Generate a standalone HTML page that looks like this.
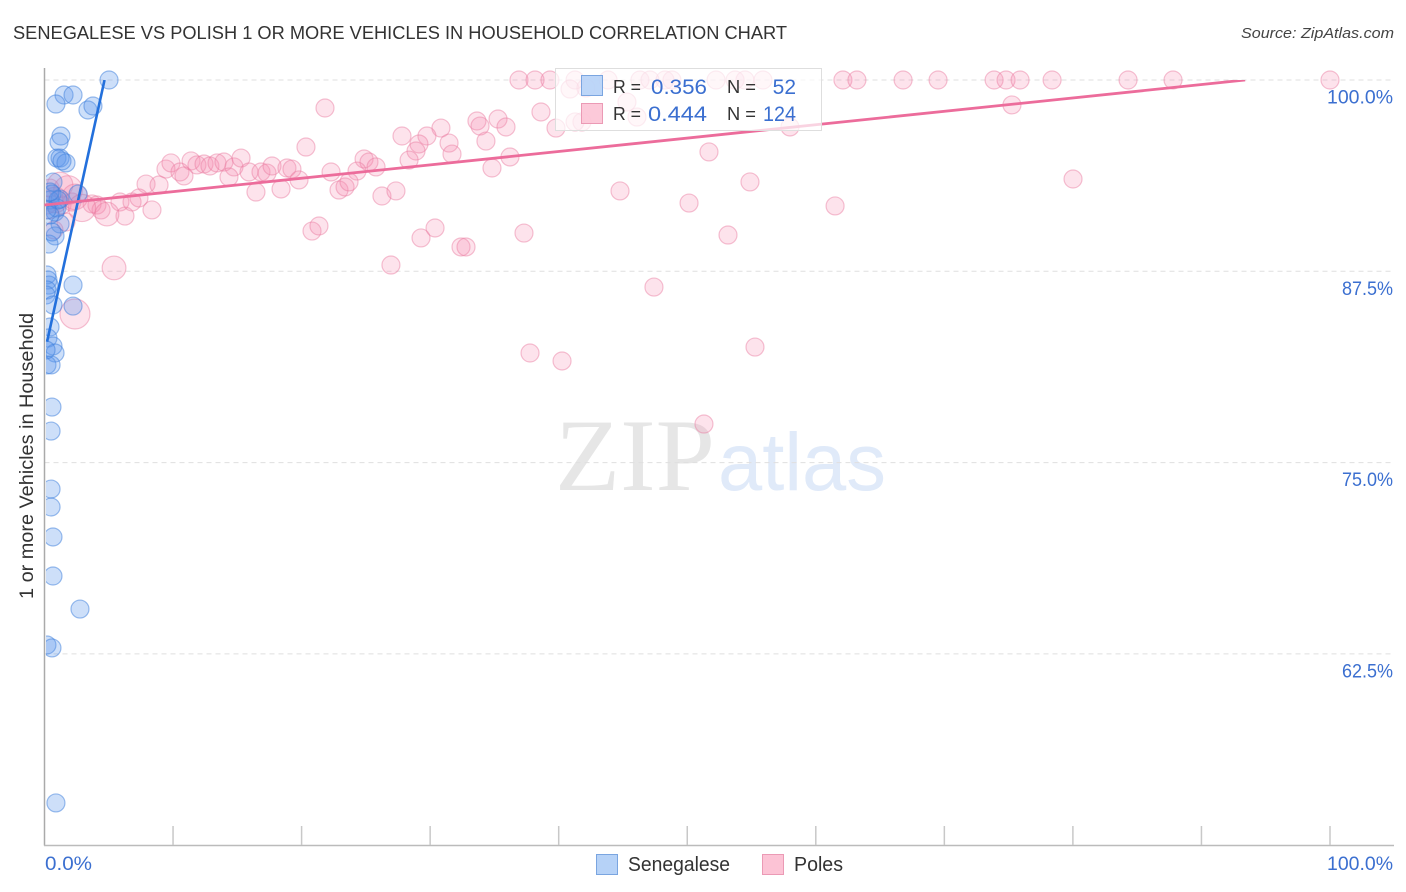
<!DOCTYPE html>
<html>
<head>
<meta charset="utf-8">
<title>Senegalese vs Polish 1 or more Vehicles in Household Correlation Chart</title>
<style>
html,body{margin:0;padding:0;background:#fff;}
svg{display:block;font-family:"Liberation Sans",sans-serif;}
</style>
</head>
<body>
<svg id="chart" width="1406" height="892" viewBox="0 0 1406 892" xmlns="http://www.w3.org/2000/svg">
  <rect x="0" y="0" width="1406" height="892" fill="#fff"/>
  <text x="13" y="39" font-size="18" fill="#333" textLength="774" lengthAdjust="spacingAndGlyphs">SENEGALESE VS POLISH 1 OR MORE VEHICLES IN HOUSEHOLD CORRELATION CHART</text>
  <text x="1241" y="38" font-size="15" font-style="italic" fill="#444" textLength="153" lengthAdjust="spacingAndGlyphs">Source: ZipAtlas.com</text>
  <g>
    <text x="555" y="490" font-family="'Liberation Serif',serif" font-size="103" fill="#e6e6e6" textLength="160" lengthAdjust="spacingAndGlyphs">ZIP</text>
    <text x="718" y="490" font-family="'Liberation Sans',sans-serif" font-size="82" fill="#e0eaf9" textLength="168" lengthAdjust="spacingAndGlyphs">atlas</text>
  </g>
  <g id="grid"></g>
  <g id="axes"></g>
  <clipPath id="dotClip"><rect x="46" y="0" width="1360" height="892"/></clipPath>
  <g id="pinkDots" clip-path="url(#dotClip)"></g>
  <g id="blueDots" clip-path="url(#dotClip)"></g>
  <clipPath id="trendClip"><rect x="0" y="80" width="1406" height="770"/></clipPath>
  <g id="trends" clip-path="url(#trendClip)"></g>
  <g>
    <rect x="555.5" y="68.5" width="266" height="62" fill="#fff" fill-opacity="0.7" stroke="#dedede" stroke-width="1"/>
    <rect x="581.5" y="75.5" width="21" height="20" fill="#b6d2f7" fill-opacity="0.9" stroke="#7aa5e0"/>
    <rect x="581.5" y="103.5" width="21" height="20" fill="#fcc3d5" fill-opacity="0.9" stroke="#eb9ab5"/>
    <text x="613" y="93" font-size="18" fill="#333" textLength="28" lengthAdjust="spacingAndGlyphs">R =</text>
    <text x="651" y="94" font-size="21" fill="#3b6fd0" textLength="56" lengthAdjust="spacingAndGlyphs">0.356</text>
    <text x="727" y="93" font-size="18" fill="#333" textLength="29" lengthAdjust="spacingAndGlyphs">N =</text>
    <text x="796" y="94" font-size="21" fill="#3b6fd0" text-anchor="end">52</text>
    <text x="613" y="120" font-size="18" fill="#333" textLength="28" lengthAdjust="spacingAndGlyphs">R =</text>
    <text x="648" y="121" font-size="21" fill="#3b6fd0" textLength="59" lengthAdjust="spacingAndGlyphs">0.444</text>
    <text x="727" y="120" font-size="18" fill="#333" textLength="29" lengthAdjust="spacingAndGlyphs">N =</text>
    <text x="763" y="121" font-size="21" fill="#3b6fd0" textLength="33" lengthAdjust="spacingAndGlyphs">124</text>
  </g>
  <text transform="translate(33,456) rotate(-90)" font-size="19" fill="#333" text-anchor="middle" textLength="286" lengthAdjust="spacingAndGlyphs">1 or more Vehicles in Household</text>
  <g>
    <rect x="596.5" y="854.5" width="21" height="20" fill="#b6d2f7" stroke="#7aa5e0"/>
    <text x="628" y="871" font-size="20" fill="#333" textLength="102" lengthAdjust="spacingAndGlyphs">Senegalese</text>
    <rect x="762.5" y="854.5" width="21" height="20" fill="#fcc3d5" stroke="#eb9ab5"/>
    <text x="794" y="871" font-size="20" fill="#333" textLength="49" lengthAdjust="spacingAndGlyphs">Poles</text>
  </g>
</svg>
<script>
const xTicks = [0,10,20,30,40,50,60,70,80,90,100];
const yTicks = [100,87.5,75,62.5];
const yTickLabels = ["100.0%","87.5%","75.0%","62.5%"];
const xEndLabels = ["0.0%","100.0%"];

const senegaleseX = [5.02,1.52,2.22,0.89,3.38,3.77,1.28,1.13,0.97,1.21,1.67,1.36,0.66,0.58,2.61,1.21,0.43,0.82,0.97,1.21,0.82,0.35,0.19,0.27,0.35,0.19,0.12,2.22,2.22,0.66,0.43,0.27,0.66,0.82,0.19,0.51,0.58,0.51,0.51,0.51,0.66,0.66,2.76,0.19,0.58,0.89,0.43,1.05,0.58,0.43,0.19,0.12];
const senegaleseY = [100,99.02,99.02,98.43,98.04,98.30,96.34,95.95,94.90,94.90,94.58,94.71,93.33,92.55,92.55,92.22,92.16,91.37,91.64,90.59,89.81,89.28,87.26,86.93,86.60,86.28,85.95,86.60,85.23,85.30,83.86,83.14,82.62,82.16,81.38,81.38,78.63,77.06,73.27,72.10,70.14,67.59,65.43,63.08,62.89,52.76,91.18,92.16,90.07,92.68,91.51,82.36];

const polesX = [36.91,38.16,39.32,41.27,43.84,46.32,47.10,48.27,48.81,52.24,53.72,54.49,55.89,62.11,63.20,66.79,69.51,73.87,74.80,75.89,78.38,84.29,87.79,100,
40.88,42.12,45.31,38.62,39.79,41.81,41.27,46.09,57.99,75.26,21.82,33.64,35.28,35.90,33.88,30.84,27.81,29.75,34.34,20.34,29.13,31.47,31.70,28.90,28.36,36.21,34.81,51.69,24.86,25.24,25.79,24.31,22.29,
9.45,9.84,10.54,10.85,11.40,11.86,12.41,12.87,13.42,13.96,14.74,14.35,15.29,15.91,16.84,17.31,17.70,18.86,19.25,19.80,18.40,16.45,7.90,8.91,80.01,54.88,44.77,50.14,61.50,22.91,23.38,23.69,26.25,27.34,20.81,21.35,26.95,29.29,30.38,32.40,32.79,37.30,53.17,47.41,55.27,37.77,40.26,51.30,
3.70,4.08,4.40,5.87,6.26,6.81,7.35,8.36,0.43,1.36,2.14,0.19,0.74,1.67,0.43];
const polesY = [100,100,100,100,100,100,100,100,100,100,100,100,100,100,100,100,100,100,100,100,100,100,100,100,
99.41,99.48,98.56,97.91,96.86,97.26,97.26,97.58,96.93,98.37,98.17,97.32,97.45,96.93,96.99,96.86,96.34,96.34,96.01,95.62,95.82,95.88,95.16,95.36,94.77,94.97,94.25,95.30,94.84,94.64,94.32,94.05,93.99,
94.18,94.58,93.99,93.73,94.71,94.45,94.51,94.38,94.58,94.64,94.32,93.66,94.90,93.99,93.99,93.92,94.38,94.25,94.18,93.47,92.88,92.68,93.20,93.14,93.53,93.34,92.75,91.96,91.77,92.81,93.01,93.34,92.42,92.75,90.13,90.46,87.91,89.68,90.33,89.09,89.09,90.00,89.87,86.47,82.55,82.16,81.64,77.52,
91.90,91.83,91.51,92.03,91.11,92.03,92.29,91.51,91.51,91.83,92.03,91.83,90.20,90.72,92.94];

const polesLargeX = [5.41,2.37,1.21,1.83,0.82,2.37,2.92,4.86];
const polesLargeY = [87.72,84.71,93.14,92.81,92.16,92.36,91.64,91.24];
const polesLargeWeight = [3,7,4,6,4,4,5,3];

const senegaleseTrendX = [0.2,4.67];
const senegaleseTrendY = [82.9,100];
const polesTrendX = [0,93.4];
const polesTrendY = [91.83,100];

const SVGNS = "http://www.w3.org/2000/svg";
function xScale(v){ return 44.5 + v * 12.855; }
function yScale(v){ return 80 + (100 - v) * 15.304; }
function make(tag, attrs, parent){
  const el = document.createElementNS(SVGNS, tag);
  for (const k in attrs) el.setAttribute(k, attrs[k]);
  parent.appendChild(el);
  return el;
}

const grid = document.getElementById('grid');
yTicks.forEach(function(t){
  const line = make('line', {x1:44.5, x2:1394, y1:yScale(t), y2:yScale(t), stroke:'#dfdfdf', 'stroke-width':1, 'stroke-dasharray':'5 4'}, grid);
  
  
});

const axes = document.getElementById('axes');
const yAxisLine = make('line', {x1:44.5, x2:44.5, y1:68, y2:845.5, stroke:'#aaa', 'stroke-width':1.5}, axes);


const xAxisLine = make('line', {x1:44, x2:1394, y1:845.5, y2:845.5, stroke:'#bbb', 'stroke-width':1.5}, axes);


xTicks.forEach(function(t){
  if (t === 0) return;
  const tick = make('line', {x1:xScale(t), x2:xScale(t), y1:826, y2:845, stroke:'#c8c8c8', 'stroke-width':1.5}, axes);
  
  
});
yTicks.forEach(function(t, i){
  const label = make('text', {x:1393, y:yScale(t) + 23.5, 'font-size':19, fill:'#3b6fd0', 'text-anchor':'end', textLength: i === 0 ? 66 : 51, lengthAdjust:'spacingAndGlyphs'}, axes);
  label.textContent = yTickLabels[i];
  
  
});
const xLabelStart = make('text', {x:45, y:870, 'font-size':19, fill:'#3b6fd0', textLength:47, lengthAdjust:'spacingAndGlyphs'}, axes);
xLabelStart.textContent = xEndLabels[0];


const xLabelEnd = make('text', {x:1393, y:870, 'font-size':19, fill:'#3b6fd0', 'text-anchor':'end', textLength:66, lengthAdjust:'spacingAndGlyphs'}, axes);
xLabelEnd.textContent = xEndLabels[1];



const pinkDots = document.getElementById('pinkDots');
polesX.forEach(function(v, i){
  const c = make('circle', {cx:xScale(v), cy:yScale(polesY[i]), r:9, fill:'rgba(245,140,175,0.24)', stroke:'rgba(232,120,158,0.45)', 'stroke-width':1.2}, pinkDots);
  
  
});
polesLargeX.forEach(function(v, i){
  const c = make('circle', {cx:xScale(v), cy:yScale(polesLargeY[i]), r:6 + Math.sqrt(polesLargeWeight[i]) * 3.4, fill:'rgba(245,140,175,0.24)', stroke:'rgba(232,120,158,0.45)', 'stroke-width':1.2}, pinkDots);
  
  
});

const blueDots = document.getElementById('blueDots');
senegaleseX.forEach(function(v, i){
  const c = make('circle', {cx:xScale(v), cy:yScale(senegaleseY[i]), r:9, fill:'rgba(90,150,235,0.3)', stroke:'rgba(60,125,220,0.5)', 'stroke-width':1.2}, blueDots);
  
  
});

const trends = document.getElementById('trends');
const blueTrend = make('line', {x1:xScale(senegaleseTrendX[0]), y1:yScale(senegaleseTrendY[0]), x2:xScale(senegaleseTrendX[1]), y2:yScale(senegaleseTrendY[1]), stroke:'#2370dc', 'stroke-width':2.6}, trends);


const pinkTrend = make('line', {x1:xScale(polesTrendX[0]), y1:yScale(polesTrendY[0]), x2:xScale(polesTrendX[1]), y2:yScale(polesTrendY[1]), stroke:'#ec6c9b', 'stroke-width':2.8}, trends);


</script>
</body>
</html>
